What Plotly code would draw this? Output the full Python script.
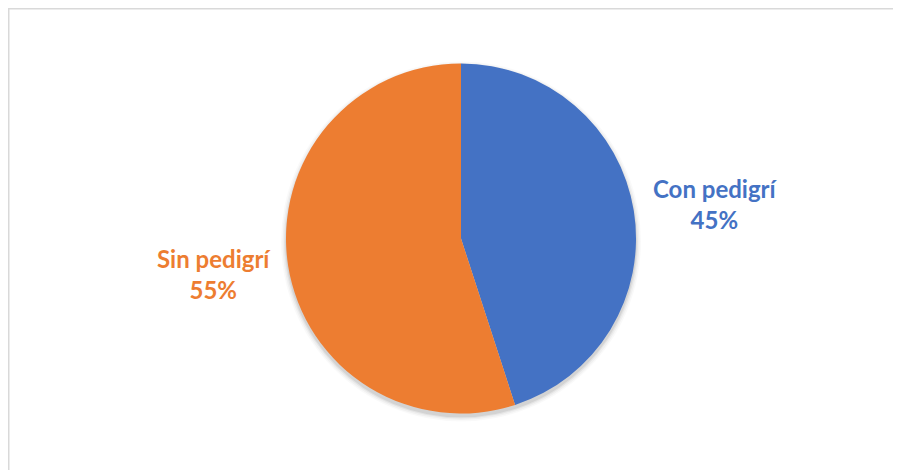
import plotly.graph_objects as go

categories = ["Con pedigrí", "Sin pedigrí"]
values = [45, 55]
colors = ["#4472C4", "#ED7D31"]

W, H = 901, 470
# page is offset by 8px body margin; positions below are in figure pixels
cx, cy, r = 453, 230.5, 175

fig = go.Figure()
fig.add_trace(go.Pie(
    labels=categories,
    values=values,
    marker=dict(colors=colors, line=dict(width=0)),
    sort=False,
    direction="clockwise",
    rotation=0,
    textinfo="none",
    hoverinfo="label+percent",
    domain=dict(x=[(cx - r) / W, (cx + r) / W], y=[(H - cy - r) / H, (H - cy + r) / H]),
    showlegend=False,
))

total = sum(values)
label_pos = [(707.5, 196), (205.5, 266)]
annotations = []
for cat, v, col, (lx, ly) in zip(categories, values, colors, label_pos):
    annotations.append(dict(
        x=lx / W, y=1 - ly / H, xref="paper", yref="paper",
        text=f"<b>{cat}<br>{round(100 * v / total)}%</b>",
        showarrow=False, font=dict(family="Lato", size=24, color=col),
        align="center", xanchor="center", yanchor="middle",
    ))

shapes = []
# soft shadow under the pie
for i, (dr, op) in enumerate([(5, 0.025), (3.5, 0.035), (2, 0.05), (0.8, 0.07)]):
    shapes.append(dict(
        type="circle", xref="paper", yref="paper", layer="below",
        x0=(cx - r - dr) / W, x1=(cx + r + dr) / W,
        y0=1 - (cy + 3 + r + dr) / H, y1=1 - (cy + 3 - r - dr) / H,
        fillcolor=f"rgba(0,0,0,{op})", line=dict(width=0),
    ))
shapes += [
    dict(type="line", xref="paper", yref="paper", x0=0, y0=0, x1=0, y1=1,
         line=dict(color="#D9D9D9", width=3)),
    dict(type="line", xref="paper", yref="paper", x0=0, y0=1, x1=1, y1=1,
         line=dict(color="#D9D9D9", width=3)),
]

fig.update_layout(
    width=W, height=H,
    margin=dict(l=0, r=0, t=0, b=0),
    paper_bgcolor="white", plot_bgcolor="white",
    annotations=annotations,
    shapes=shapes,
)

fig.write_html("out.html")
